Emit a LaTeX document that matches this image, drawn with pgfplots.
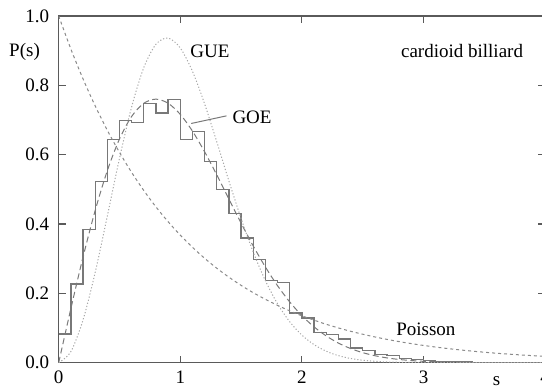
\documentclass[border=0pt]{standalone}
\usepackage{fontspec}
\setmainfont{Liberation Serif}
\usepackage{pgfplots}
\pgfplotsset{compat=1.18}
\definecolor{axgray}{HTML}{5A5A5A}
\definecolor{histgray}{HTML}{787878}
\definecolor{goegray}{HTML}{7A7A7A}
\definecolor{poigray}{HTML}{8A8A8A}
\definecolor{guegray}{HTML}{A8A8A8}
\begin{document}
\begin{tikzpicture}[font=\fontsize{19bp}{22bp}\selectfont]
\begin{axis}[
  at={(0,0)}, anchor=south west,
  scale only axis, width=486.4bp, height=346.7bp,
  xmin=0, xmax=4, ymin=0, ymax=1,
  xtick={0,1,2,3,4}, xticklabels={0,1,2,3,4},
  ytick={0,0.2,0.4,0.6,0.8,1.0}, yticklabels={0.0,0.2,0.4,0.6,0.8,1.0},
  /pgf/number format/assume math mode=true,
  tick align=inside, major tick length=7bp,
  xtick pos=both, ytick pos=both,
  minor tick num=0,
  axis line style={axgray, line width=1.5bp},
  tick style={axgray, line width=1.1bp},
  xticklabel style={yshift=-5bp},
  yticklabel style={xshift=-6bp},
  clip mode=individual,
]
% histogram (bin width 0.1)
\addplot[const plot, draw=histgray, line width=1.3bp] coordinates {
(0,0.083) (0.1,0.227) (0.2,0.384) (0.3,0.522) (0.4,0.643) (0.5,0.699)
(0.6,0.693) (0.7,0.747) (0.8,0.720) (0.9,0.759) (1.0,0.643) (1.1,0.667)
(1.2,0.581) (1.3,0.499) (1.4,0.430) (1.5,0.360) (1.6,0.297) (1.7,0.237)
(1.8,0.232) (1.9,0.143) (2.0,0.129) (2.1,0.088) (2.2,0.082) (2.3,0.068)
(2.4,0.042) (2.5,0.036) (2.6,0.023) (2.7,0.020) (2.8,0.013) (2.9,0.009)
(3.0,0.006) (3.1,0.004) (3.2,0.003) (3.3,0.002) (3.4,0.001) (4.0,0.001)
};
% GOE
\addplot[smooth, draw=goegray, line width=1.0bp, dash pattern=on 6bp off 3.5bp] coordinates {
(0,0) (0.1,0.1559) (0.2,0.3044) (0.3,0.4391) (0.4,0.5541) (0.5,0.6454)
(0.6,0.7104) (0.7,0.7483) (0.8,0.7602) (0.9,0.7483) (1.0,0.7162)
(1.1,0.6680) (1.2,0.6083) (1.3,0.5416) (1.4,0.4717) (1.5,0.4025)
(1.6,0.3365) (1.7,0.2759) (1.8,0.2219) (1.9,0.1752) (2.0,0.1358)
(2.1,0.1033) (2.2,0.0772) (2.3,0.0567) (2.4,0.0409) (2.5,0.0290)
(2.6,0.0202) (2.7,0.0138) (2.8,0.0093) (2.9,0.0062) (3.0,0.0040)
(3.2,0.0016) (3.4,0.0006) (3.6,0.0002) (3.8,0.0001) (4.0,0.0000)
};
% GUE
\addplot[smooth, draw=guegray, line width=1.0bp, dash pattern=on 1.2bp off 2bp] coordinates {
(0,0) (0.1,0.0320) (0.2,0.1233) (0.3,0.2602) (0.4,0.4232) (0.5,0.5896)
(0.6,0.7380) (0.7,0.8514) (0.8,0.9186) (0.9,0.9364) (1.0,0.9076)
(1.1,0.8405) (1.2,0.7465) (1.3,0.6371) (1.4,0.5239) (1.5,0.4158)
(1.6,0.3188) (1.7,0.2365) (1.8,0.1698) (1.9,0.1181) (2.0,0.0796)
(2.1,0.0521) (2.2,0.0331) (2.3,0.0204) (2.4,0.0122) (2.5,0.0071)
(2.6,0.0040) (2.7,0.0022) (2.8,0.0012) (3.0,0.0003) (3.2,0.0001)
(3.5,0.0000) (4.0,0.0000)
};
% Poisson
\addplot[smooth, draw=poigray, line width=1.0bp, dash pattern=on 3bp off 3bp] coordinates {
(0,1.0) (0.1,0.9048) (0.2,0.8187) (0.3,0.7408) (0.4,0.6703) (0.5,0.6065)
(0.6,0.5488) (0.7,0.4966) (0.8,0.4493) (0.9,0.4066) (1.0,0.3679)
(1.1,0.3329) (1.2,0.3012) (1.3,0.2725) (1.4,0.2466) (1.5,0.2231)
(1.6,0.2019) (1.7,0.1827) (1.8,0.1653) (1.9,0.1496) (2.0,0.1353)
(2.2,0.1108) (2.4,0.0907) (2.6,0.0743) (2.8,0.0608) (3.0,0.0498)
(3.2,0.0408) (3.4,0.0334) (3.6,0.0273) (3.8,0.0224) (4.0,0.0183)
};
% GOE pointer
\addplot[draw=histgray, line width=1.0bp] coordinates {(1.38,0.712) (1.09,0.690)};
\node at (axis cs:1.244,0.897) {GUE};
\node at (axis cs:1.59,0.707) {GOE};
\node at (axis cs:3.317,0.898) {cardioid billiard};
\node at (axis cs:3.02,0.097) {Poisson};
\node at (axis cs:-0.281,0.897) {P(s)};
\node[anchor=base] at (axis cs:3.6,-0.066) {s};
\end{axis}
\pgfresetboundingbox
\useasboundingbox (-58.7bp,-26bp) rectangle (483.3bp,362.7bp);
\end{tikzpicture}
\end{document}
